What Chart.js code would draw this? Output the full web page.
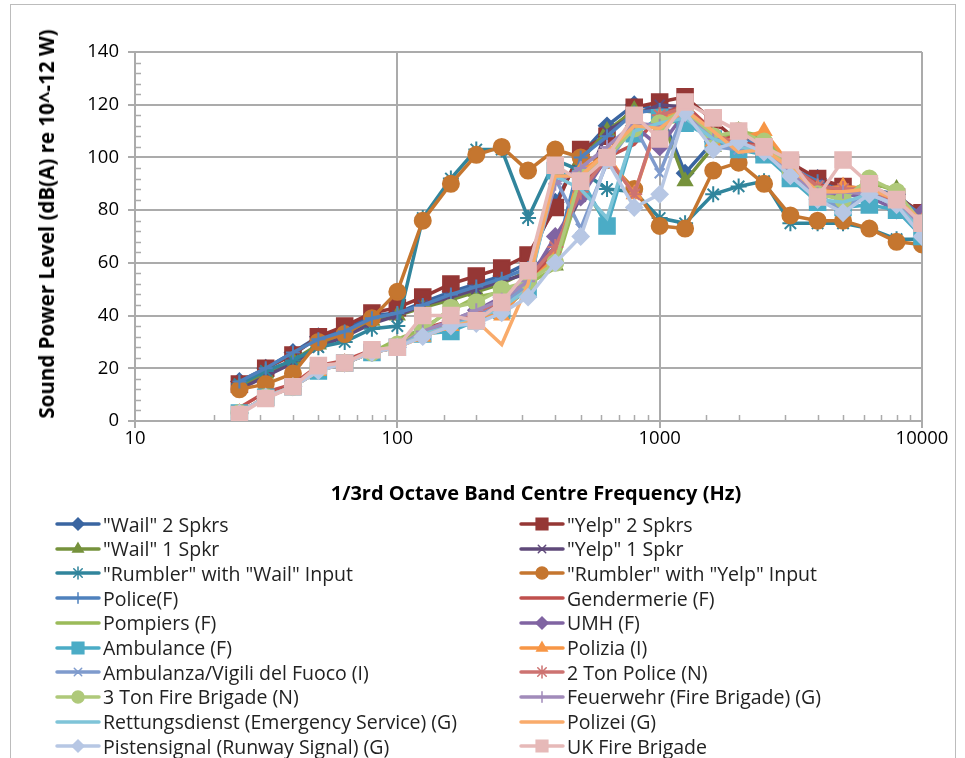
<!DOCTYPE html>
<html>
<head>
<meta charset="utf-8">
<script src="https://cdn.jsdelivr.net/npm/chart.js@4.4.1/dist/chart.umd.min.js"></script>
<style>
  body { margin: 0; background: #fff; font-family: "Open Sans", Lato, sans-serif; }
  #wrap { position: relative; width: 965px; height: 758px; overflow: hidden; }
  #frame { position: absolute; left: 10px; top: 4px; width: 944px; height: 800px; border: 1px solid #bcbcbc; }
  #chart { position: absolute; left: 0; top: 0; }
  .ytitle { position: absolute; left: 46px; top: 224px; transform: translate(-50%, -50%) rotate(-90deg);
            white-space: nowrap; font-weight: bold; font-size: 20.5px; color: #000; }
  .xtitle { position: absolute; left: 536px; top: 492px; transform: translate(-50%, -50%);
            white-space: nowrap; font-weight: bold; font-size: 20px; color: #000; }
  .item { position: absolute; height: 24px; display: flex; align-items: center; white-space: nowrap;
          font-size: 19.5px; color: #222; }
  .item canvas { margin-right: 2px; }
</style>
</head>
<body>
<div id="wrap">
  <div id="frame"></div>
  <canvas id="chart" width="965" height="758"></canvas>
  <div class="ytitle">Sound Power Level (dB(A) re 10^-12 W)</div>
  <div class="xtitle">1/3rd Octave Band Centre Frequency (Hz)</div>
  <div id="legend"></div>
</div>
<script>
// 1/3 octave band centre frequencies (Hz)
const freqs = [25, 31.5, 40, 50, 63, 80, 100, 125, 160, 200, 250, 315, 400, 500, 630, 800, 1000, 1250, 1600, 2000, 2500, 3150, 4000, 5000, 6300, 8000, 10000];

const names = ['"Wail" 2 Spkrs', '"Yelp" 2 Spkrs', '"Wail" 1 Spkr', '"Yelp" 1 Spkr',
  '"Rumbler" with "Wail" Input', '"Rumbler" with "Yelp" Input', 'Police(F)', 'Gendermerie (F)',
  'Pompiers (F)', 'UMH (F)', 'Ambulance (F)', 'Polizia (I)', 'Ambulanza/Vigili del Fuoco (I)',
  '2 Ton Police (N)', '3 Ton Fire Brigade (N)', 'Feuerwehr (Fire Brigade) (G)',
  'Rettungsdienst (Emergency Service) (G)', 'Polizei (G)', 'Pistensignal (Runway Signal) (G)', 'UK Fire Brigade'];

// sound power level, dB(A), one value per band
const wail2       = [15, 20, 26, 32, 35, 40, 41, 45, 49, 52, 55, 60, 83, 101, 112, 120, 118, 94, 106, 108, 106, 95, 92, 88, 88, 86, 78];
const yelp2       = [14, 20, 25, 32, 36, 41, 43, 47, 52, 55, 58, 63, 81, 103, 108, 119, 121, 123, 114, 106, 103, 98, 92, 89, 88, 85, 79];
const wail1       = [13, 18, 23, 29, 33, 38, 40, 43, 46, 49, 52, 57, 59, 99, 110, 118, 117, 91, 104, 110, 107, 93, 88, 87, 90, 88, 72];
const yelp1       = [12, 17, 22, 28, 32, 37, 40, 44, 47, 50, 53, 56, 66, 85, 110, 116, 120, 119, 106, 104, 103, 95, 90, 87, 86, 84, 77];
const rumblerWail = [14, 19, 23, 28, 30, 35, 36, 77, 92, 103, 103, 77, 99, 95, 88, 87, 77, 75, 86, 89, 91, 75, 75, 75, 73, 69, 69];
const rumblerYelp = [12, 14, 18, 30, 33, 39, 49, 76, 90, 101, 104, 95, 103, 100, 99, 88, 74, 73, 95, 98, 90, 78, 76, 76, 73, 68, 67];
const police      = [15, 20, 26, 31, 34, 39, 41, 44, 48, 51, 54, 58, 62, 100, 108, 117, 118, 118, 108, 106, 106, 96, 91, 86, 88, 85, 78];
const gendermerie = [5, 11, 14, 21, 23, 27, 29, 35, 38, 40, 45, 53, 64, 88, 100, 105, 116, 120, 110, 106, 104, 96, 90, 87, 87, 82, 76];
const pompiers    = [3, 9, 13, 20, 22, 26, 31, 35, 42, 47, 49, 52, 58, 90, 75, 110, 113, 114, 107, 110, 108, 96, 88, 84, 91, 87, 73];
const umh         = [3, 9, 13, 20, 22, 26, 28, 34, 38, 42, 47, 53, 70, 85, 100, 112, 104, 117, 106, 103, 104, 95, 87, 86, 85, 80, 79];
const ambulance   = [3, 9, 13, 19, 22, 26, 28, 33, 34, 38, 42, 50, 95, 92, 74, 109, 115, 113, 107, 103, 101, 92, 83, 81, 82, 80, 70];
const polizia     = [3, 9, 13, 19, 22, 26, 28, 32, 36, 40, 40, 52, 62, 95, 101, 86, 115, 118, 106, 107, 110, 97, 88, 89, 88, 83, 75];
const ambulanza   = [3, 9, 13, 19, 22, 26, 28, 33, 37, 40, 44, 52, 92, 73, 98, 112, 94, 118, 104, 103, 102, 93, 86, 80, 88, 82, 74];
const twoTon      = [3, 9, 13, 20, 22, 26, 28, 34, 38, 41, 46, 54, 66, 87, 100, 86, 116, 119, 109, 105, 104, 97, 89, 88, 88, 83, 76];
const threeTon    = [3, 9, 13, 20, 22, 26, 29, 34, 43, 45, 50, 53, 60, 93, 100, 111, 113, 118, 108, 110, 106, 95, 86, 84, 92, 87, 75];
const feuerwehr   = [3, 9, 13, 20, 22, 26, 28, 34, 38, 42, 46, 53, 90, 96, 104, 113, 112, 116, 107, 104, 103, 94, 86, 87, 86, 82, 75];
const rettung     = [3, 9, 13, 19, 22, 26, 28, 33, 36, 39, 43, 50, 93, 88, 77, 110, 113, 115, 107, 104, 102, 93, 84, 83, 86, 82, 72];
const polizei     = [3, 9, 13, 19, 22, 26, 28, 32, 36, 38, 29, 52, 93, 93, 102, 112, 111, 118, 110, 102, 103, 96, 87, 87, 88, 84, 76];
const pisten      = [3, 9, 13, 19, 22, 26, 28, 32, 36, 37, 41, 47, 60, 70, 99, 81, 86, 117, 103, 106, 102, 93, 84, 79, 86, 82, 70];
const ukFire      = [2.5, 8.5, 13, 21, 22, 27, 28, 40, 40, 38, 45, 57, 97, 91, 100, 116, 107, 121, 115, 110, 104, 99, 85, 99, 90, 84, 75];

const allValues = [wail2, yelp2, wail1, yelp1, rumblerWail, rumblerYelp, police, gendermerie, pompiers, umh,
  ambulance, polizia, ambulanza, twoTon, threeTon, feuerwehr, rettung, polizei, pisten, ukFire];

const colors = ['#3a65a1', '#953735', '#76923c', '#5f497a', '#31859c', '#c5762f', '#4f81bd', '#c0504d', '#9bbb59', '#8064a2',
  '#4bacc6', '#f79646', '#7f9bcd', '#cd7371', '#afc97a', '#a18bba', '#7fc4d8', '#f9ab6b', '#b7c7e4', '#e6b9b8'];
const markers = ['rectRot', 'rect', 'triangle', 'crossRot', 'star', 'circle', 'cross', false, false, 'rectRot',
  'rect', 'triangle', 'crossRot', 'star', 'circle', 'cross', false, false, 'rectRot', 'rect'];
const markerSize = { rectRot: 8, rect: 11, triangle: 8, crossRot: 7, star: 8, circle: 8, cross: 7 };

const gridColor = '#ababab';
const clear = 'rgba(0,0,0,0)';
const font = { family: '"Open Sans", Lato, sans-serif', size: 18.5 };

function isDecade(v) {
  const l = Math.log10(v);
  return Math.abs(l - Math.round(l)) < 1e-9;
}

const datasets = allValues.map((vals, i) => ({
  label: names[i],
  data: freqs.map((f, j) => ({ x: f, y: vals[j] })),
  borderColor: colors[i],
  backgroundColor: colors[i],
  borderWidth: 3.5,
  pointStyle: markers[i] || 'circle',
  pointRadius: markers[i] ? markerSize[markers[i]] : 0,
  pointBorderWidth: 2,
  pointHoverRadius: markers[i] ? markerSize[markers[i]] : 0,
  tension: 0,
  order: -i
}));

// small inward tick marks between the labelled ones
const minorTicks = {
  id: 'minorTicks',
  beforeDatasetsDraw(chart) {
    const { ctx, chartArea, scales } = chart;
    ctx.save();
    ctx.strokeStyle = gridColor;
    ctx.lineWidth = 1.5;
    scales.x.ticks.forEach(t => {
      if (isDecade(t.value)) return;
      const px = Math.round(scales.x.getPixelForValue(t.value)) + 0.5;
      ctx.beginPath();
      ctx.moveTo(px, chartArea.bottom);
      ctx.lineTo(px, chartArea.bottom - 6);
      ctx.stroke();
    });
    scales.y.ticks.forEach(t => {
      if (t.value % 20 === 0) return;
      const py = Math.round(scales.y.getPixelForValue(t.value)) + 0.5;
      ctx.beginPath();
      ctx.moveTo(chartArea.left, py);
      ctx.lineTo(chartArea.left + 6, py);
      ctx.stroke();
    });
    ctx.restore();
  }
};

const chart = new Chart(document.getElementById('chart'), {
  type: 'line',
  data: { datasets },
  plugins: [minorTicks],
  options: {
    responsive: false,
    animation: false,
    devicePixelRatio: 1,
    layout: { padding: { left: 0, top: 52, right: 43, bottom: 297 } },
    plugins: { legend: { display: false }, tooltip: { enabled: false } },
    scales: {
      x: {
        type: 'logarithmic',
        min: 10,
        max: 10000,
        afterFit(s) { s.height = 40; s.paddingLeft = 0; s.paddingRight = 0; },
        border: { color: gridColor, width: 2 },
        grid: {
          color: c => (c.tick && isDecade(c.tick.value)) ? gridColor : clear,
          tickColor: c => (c.tick && isDecade(c.tick.value)) ? gridColor : clear,
          lineWidth: 2,
          tickLength: 7
        },
        ticks: {
          autoSkip: false,
          maxRotation: 0,
          padding: 0,
          color: '#000',
          font,
          callback: v => isDecade(v) ? String(v) : ''
        }
      },
      y: {
        min: 0,
        max: 140,
        afterFit(s) { s.width = 135; s.paddingTop = 0; s.paddingBottom = 0; },
        border: { color: gridColor, width: 2 },
        grid: {
          color: c => (c.tick && c.tick.value % 20 === 0) ? gridColor : clear,
          tickColor: c => (c.tick && c.tick.value % 20 === 0) ? gridColor : clear,
          lineWidth: 2,
          tickLength: 7
        },
        ticks: {
          stepSize: 4,
          autoSkip: false,
          padding: 9,
          color: '#000',
          font,
          callback: v => v % 20 === 0 ? v : ''
        }
      }
    }
  }
});

// two column legend, filled from the datasets
const legend = document.getElementById('legend');
datasets.forEach((ds, i) => {
  const col = i % 2, row = Math.floor(i / 2);
  const item = document.createElement('div');
  item.className = 'item';
  item.style.left = (col ? 519 : 55) + 'px';
  item.style.top = (512 + row * 24.7) + 'px';
  const c = document.createElement('canvas');
  c.width = 46; c.height = 20;
  const g = c.getContext('2d');
  g.strokeStyle = ds.borderColor;
  g.fillStyle = ds.borderColor;
  g.lineWidth = 3.5;
  g.lineCap = 'round';
  g.beginPath(); g.moveTo(2, 10); g.lineTo(44, 10); g.stroke();
  if (markers[i]) {
    g.lineWidth = 1.5;
    Chart.helpers.drawPoint(g, { pointStyle: markers[i], radius: markerSize[markers[i]] * 0.75, borderWidth: 1.5, rotation: 0 }, 23, 10);
  }
  item.appendChild(c);
  const t = document.createElement('span');
  t.textContent = ds.label;
  item.appendChild(t);
  legend.appendChild(item);
});
</script>
</body>
</html>
